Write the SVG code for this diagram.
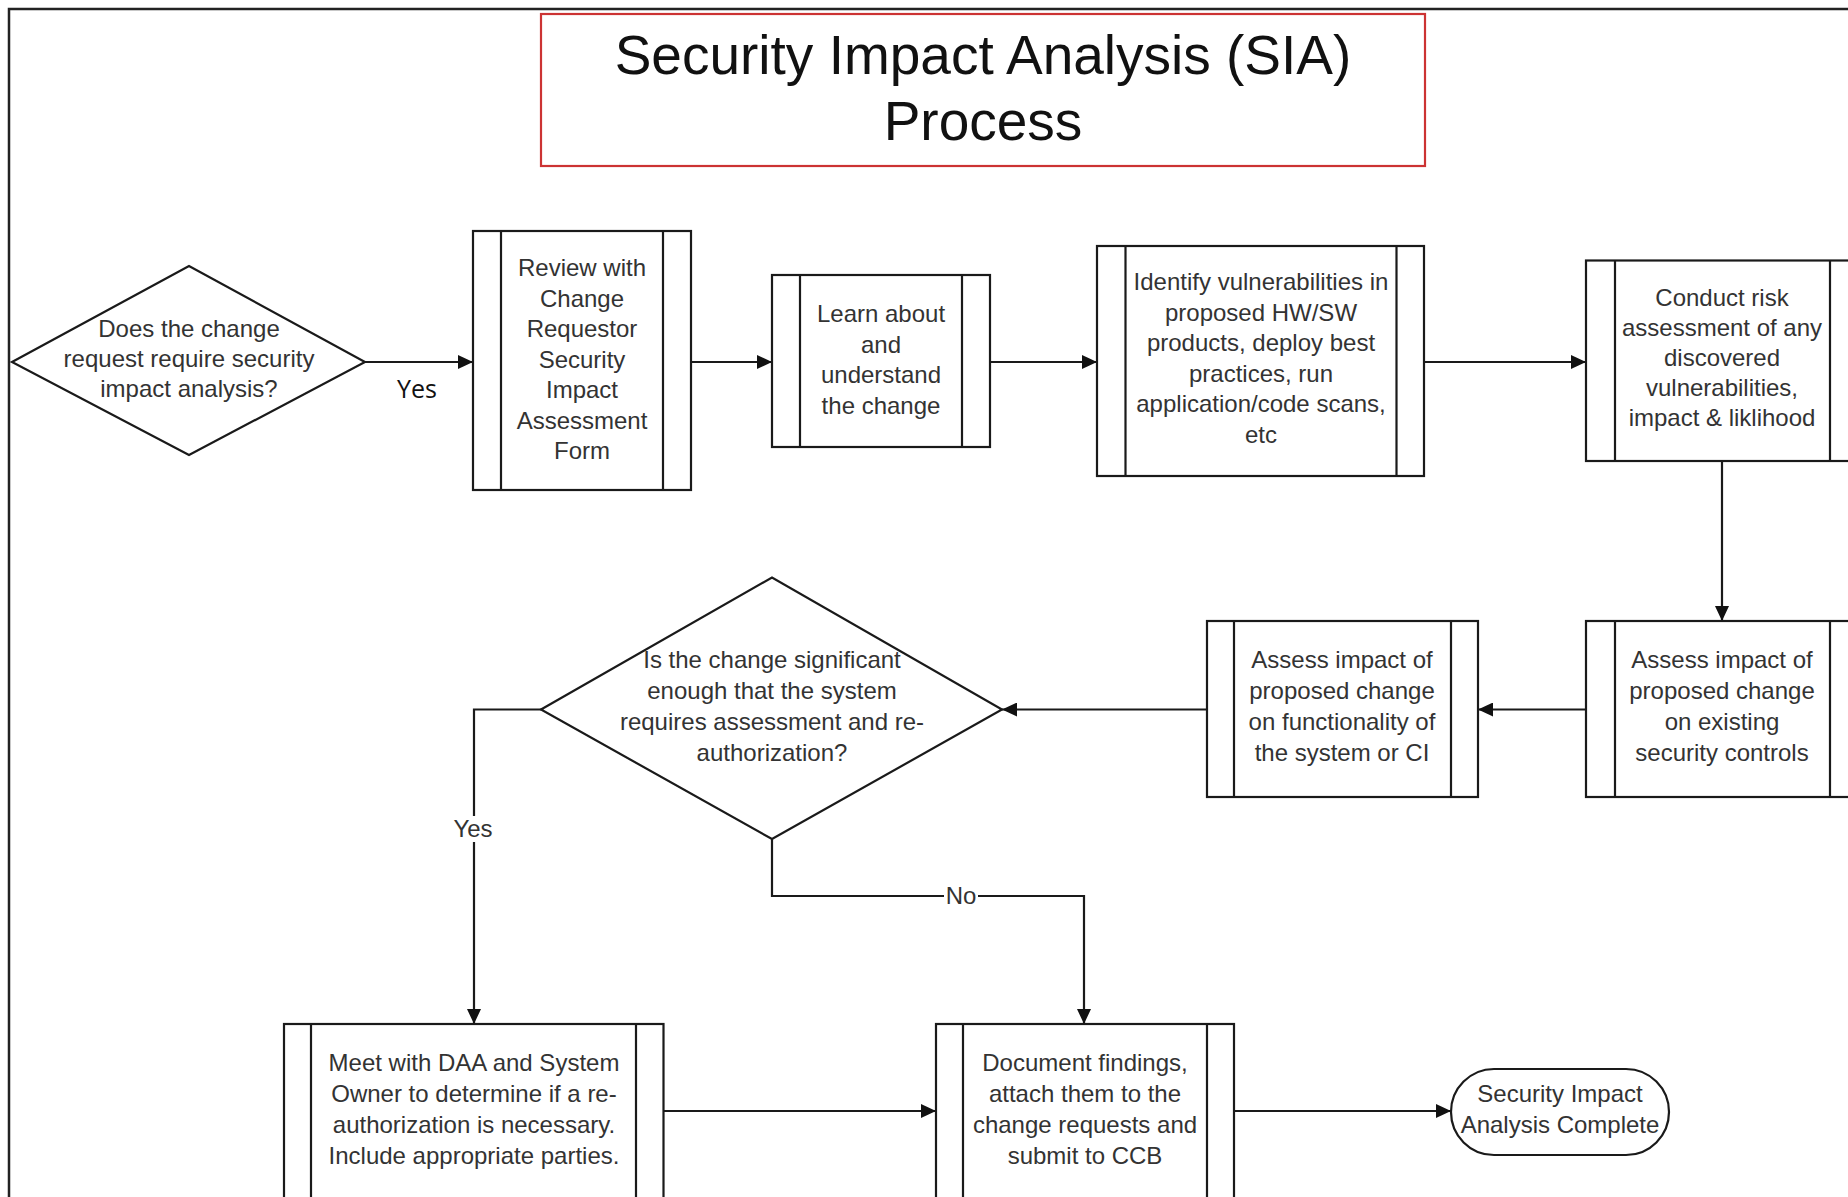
<svg xmlns="http://www.w3.org/2000/svg" width="1848" height="1197" viewBox="0 0 1848 1197">
<style>
.box{fill:#fff;stroke:#1a1a1a;stroke-width:2.2}
.bar{stroke:#1a1a1a;stroke-width:2.2}
.t{font-family:"Liberation Sans",Arial,sans-serif;font-size:24px;fill:#333;text-anchor:middle}
.c{fill:none;stroke:#1a1a1a;stroke-width:2.2}
.lbl{font-family:"Liberation Sans",Arial,sans-serif;font-size:24px;fill:#333;text-anchor:middle}
</style>
<defs>
<marker id="ah" markerUnits="userSpaceOnUse" markerWidth="16" markerHeight="14" refX="15" refY="7" orient="auto">
<path d="M0,0 L15,7 L0,14 Z" fill="#111"/>
</marker>
</defs>
<rect width="1848" height="1197" fill="#fff"/>
<rect x="9" y="9" width="1900" height="1300" fill="none" stroke="#222" stroke-width="2.5"/>

<g id="title">
<rect x="541" y="14" width="884" height="152" fill="#fff" stroke="#cc3333" stroke-width="2.2"/>
<text x="983" y="74" font-family="Liberation Sans,Arial,sans-serif" font-size="55" fill="#111" text-anchor="middle">Security Impact Analysis (SIA)</text>
<text x="983" y="140" font-family="Liberation Sans,Arial,sans-serif" font-size="55" fill="#111" text-anchor="middle">Process</text>
</g>

<g id="connectors">
<path class="c" d="M365,362 H473" marker-end="url(#ah)"/>
<path class="c" d="M691,362 H772" marker-end="url(#ah)"/>
<path class="c" d="M990,362 H1097" marker-end="url(#ah)"/>
<path class="c" d="M1424,362 H1586" marker-end="url(#ah)"/>
<path class="c" d="M1722,461 V621" marker-end="url(#ah)"/>
<path class="c" d="M1586,709.5 H1478" marker-end="url(#ah)"/>
<path class="c" d="M1207,709.5 H1002" marker-end="url(#ah)"/>
<path class="c" d="M541,709.5 H474 V1024" marker-end="url(#ah)"/>
<path class="c" d="M772,839 V896 H1084 V1024" marker-end="url(#ah)"/>
<path class="c" d="M663.5,1111 H936" marker-end="url(#ah)"/>
<path class="c" d="M1234,1111 H1451" marker-end="url(#ah)"/>
<text x="417" y="398" font-family="Open Sans,sans-serif" font-size="25" fill="#111" text-anchor="middle">Yes</text>
<rect x="452" y="816" width="42" height="26" fill="#fff"/>
<text class="lbl" x="473" y="837">Yes</text>
<rect x="944" y="884" width="34" height="24" fill="#fff"/>
<text class="lbl" x="961" y="904">No</text>
</g>

<g id="d1">
<polygon class="box" points="12,362 189,266 365,362 189,455"/>
<text class="t" x="189" y="337">Does the change<tspan x="189" dy="30">request require security</tspan><tspan x="189" dy="30">impact analysis?</tspan></text>
</g>

<g id="p1">
<rect class="box" x="473" y="231" width="218" height="259"/>
<path class="bar" d="M501,231 V490 M663,231 V490"/>
<text class="t" x="582" y="276">Review with<tspan x="582" dy="30.5">Change</tspan><tspan x="582" dy="30.5">Requestor</tspan><tspan x="582" dy="30.5">Security</tspan><tspan x="582" dy="30.5">Impact</tspan><tspan x="582" dy="30.5">Assessment</tspan><tspan x="582" dy="30.5">Form</tspan></text>
</g>

<g id="p2">
<rect class="box" x="772" y="275" width="218" height="172"/>
<path class="bar" d="M800,275 V447 M962,275 V447"/>
<text class="t" x="881" y="322">Learn about<tspan x="881" dy="30.5">and</tspan><tspan x="881" dy="30.5">understand</tspan><tspan x="881" dy="30.5">the change</tspan></text>
</g>

<g id="p3">
<rect class="box" x="1097" y="246" width="327" height="230"/>
<path class="bar" d="M1125.5,246 V476 M1396.5,246 V476"/>
<text class="t" x="1261" y="290">Identify vulnerabilities in<tspan x="1261" dy="30.6">proposed HW/SW</tspan><tspan x="1261" dy="30.6">products, deploy best</tspan><tspan x="1261" dy="30.6">practices, run</tspan><tspan x="1261" dy="30.6">application/code scans,</tspan><tspan x="1261" dy="30.6">etc</tspan></text>
</g>

<g id="p4">
<rect class="box" x="1586" y="260.5" width="273" height="200.5"/>
<path class="bar" d="M1615,260.5 V461 M1830,260.5 V461"/>
<text class="t" x="1722" y="306">Conduct risk<tspan x="1722" dy="30">assessment of any</tspan><tspan x="1722" dy="30">discovered</tspan><tspan x="1722" dy="30">vulnerabilities,</tspan><tspan x="1722" dy="30">impact &amp; liklihood</tspan></text>
</g>

<g id="p5">
<rect class="box" x="1586" y="621" width="273" height="176"/>
<path class="bar" d="M1615,621 V797 M1830,621 V797"/>
<text class="t" x="1722" y="668">Assess impact of<tspan x="1722" dy="31">proposed change</tspan><tspan x="1722" dy="31">on existing</tspan><tspan x="1722" dy="31">security controls</tspan></text>
</g>

<g id="p6">
<rect class="box" x="1207" y="621" width="271" height="176"/>
<path class="bar" d="M1234,621 V797 M1451,621 V797"/>
<text class="t" x="1342" y="668">Assess impact of<tspan x="1342" dy="31">proposed change</tspan><tspan x="1342" dy="31">on functionality of</tspan><tspan x="1342" dy="31">the system or CI</tspan></text>
</g>

<g id="d2">
<polygon class="box" points="541,709.5 772,577.5 1002,709.5 772,839"/>
<text class="t" x="772" y="668">Is the change significant<tspan x="772" dy="31">enough that the system</tspan><tspan x="772" dy="31">requires assessment and re-</tspan><tspan x="772" dy="31">authorization?</tspan></text>
</g>

<g id="p7">
<rect class="box" x="284" y="1024" width="379.5" height="200"/>
<path class="bar" d="M311,1024 V1224 M636,1024 V1224"/>
<text class="t" x="474" y="1071">Meet with DAA and System<tspan x="474" dy="31">Owner to determine if a re-</tspan><tspan x="474" dy="31">authorization is necessary.</tspan><tspan x="474" dy="31">Include appropriate parties.</tspan></text>
</g>

<g id="p8">
<rect class="box" x="936" y="1024" width="298" height="200"/>
<path class="bar" d="M963,1024 V1224 M1207,1024 V1224"/>
<text class="t" x="1085" y="1071">Document findings,<tspan x="1085" dy="31">attach them to the</tspan><tspan x="1085" dy="31">change requests and</tspan><tspan x="1085" dy="31">submit to CCB</tspan></text>
</g>

<g id="end">
<rect class="box" x="1451" y="1069" width="218" height="86" rx="43" ry="43"/>
<text class="t" x="1560" y="1102">Security Impact<tspan x="1560" dy="31">Analysis Complete</tspan></text>
</g>
</svg>
